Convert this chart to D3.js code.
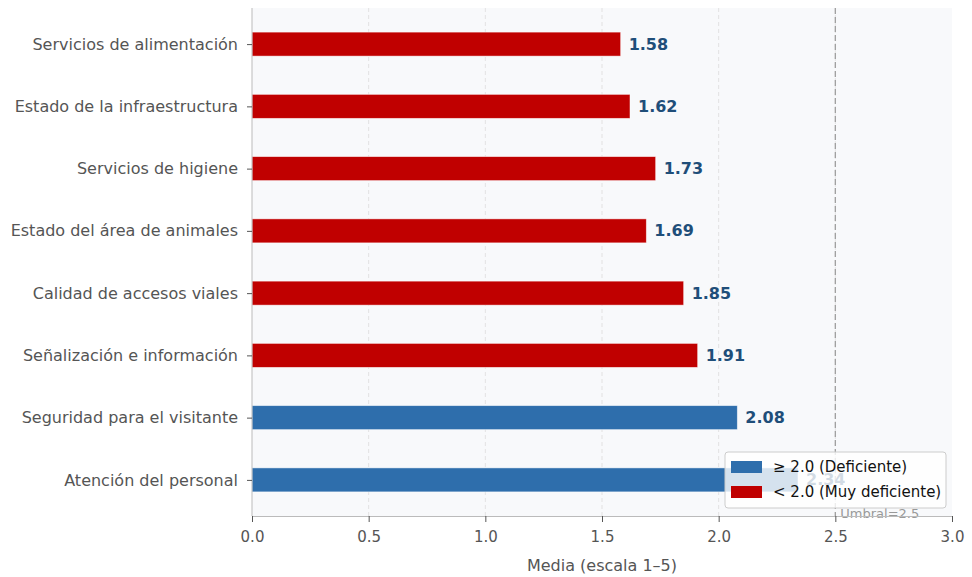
<!DOCTYPE html>
<html><head><meta charset="utf-8">
<script src="https://cdn.jsdelivr.net/npm/d3@7"></script>
<style>body{margin:0;background:#fff;} svg{display:block;font-family:"DejaVu Sans",sans-serif;}</style>
</head><body>
<svg id="c" width="972" height="577"></svg>
<script>
const categories = ["Servicios de alimentación","Estado de la infraestructura","Servicios de higiene","Estado del área de animales","Calidad de accesos viales","Señalización e información","Seguridad para el visitante","Atención del personal"];
const values = [1.58,1.62,1.73,1.69,1.85,1.91,2.08,2.34];
const xTicks = [0,0.5,1.0,1.5,2.0,2.5,3.0];
const threshold = 2.5;
const cutoff = 2.0;
const legendLabels = ["≥ 2.0 (Deficiente)","< 2.0 (Muy deficiente)"];
const colors = {hi:"#2E6EAC", lo:"#C00000"};

const svg = d3.select("#c");
const L=252, R=952, T=8, B=516;
const x = d3.scaleLinear().domain([0,3]).range([L,R]);
const y = d3.scalePoint().domain(categories).range([T,B]).padding(0.58);
const bh = 24;

svg.append("rect").attr("x",L).attr("y",T).attr("width",R-L).attr("height",B-T).attr("fill","#F8F9FB");

// grid
svg.append("g").selectAll("line").data(xTicks.filter(d=>d>0&&d<3)).join("line")
  .attr("x1",d=>x(d)).attr("x2",d=>x(d)).attr("y1",T).attr("y2",B)
  .attr("stroke","#dcdcdc").attr("stroke-width",0.8).attr("stroke-dasharray","4,3");

// threshold
svg.append("line").attr("x1",x(threshold)).attr("x2",x(threshold)).attr("y1",T).attr("y2",B)
  .attr("stroke","#a0a0a0").attr("stroke-width",1.3).attr("stroke-dasharray","6,3");

// bars
svg.append("g").selectAll("rect").data(values).join("rect")
  .attr("x",x(0)).attr("y",(d,i)=>y(categories[i])-bh/2)
  .attr("width",d=>x(d)-x(0)).attr("height",bh)
  .attr("fill",d=>d>=cutoff?colors.hi:colors.lo)
  .attr("stroke","#ffffff").attr("stroke-opacity",0.6).attr("stroke-width",0.8);

// value labels
svg.append("g").selectAll("text").data(values).join("text")
  .attr("x",d=>x(d)+8).attr("y",(d,i)=>y(categories[i]))
  .attr("dy","0.35em").attr("font-size",16).attr("font-weight","bold").attr("fill","#1F4E79")
  .text(d=>d.toFixed(2));

// threshold label
svg.append("text").attr("x",x(threshold)+5).attr("y",B+2).attr("font-size",13).attr("fill","#999")
  .text("Umbral="+threshold);

// axes
const xa = svg.append("g").attr("transform",`translate(0,${B})`)
  .call(d3.axisBottom(x).tickValues(xTicks).tickFormat(d3.format(".1f")).tickSize(6).tickSizeOuter(0).tickPadding(9));
xa.select(".domain").attr("stroke","#bbb");
xa.selectAll(".tick line").attr("stroke","#555");
xa.selectAll(".tick text").attr("font-size",15).attr("fill","#555").attr("font-family","DejaVu Sans");

const ya = svg.append("g").attr("transform",`translate(${L},0)`)
  .call(d3.axisLeft(y).tickSize(5).tickSizeOuter(0).tickPadding(9));
ya.select(".domain").attr("stroke","#bbb").attr("d",`M0,${T}V${B}`);
ya.selectAll(".tick line").attr("stroke","#555");
ya.selectAll(".tick text").attr("font-size",16).attr("fill","#555").attr("font-family","DejaVu Sans");

svg.append("text").attr("x",(L+R)/2).attr("y",571).attr("text-anchor","middle")
  .attr("font-size",16).attr("fill","#555").text("Media (escala 1–5)");

// legend
const lg = svg.append("g");
lg.append("rect").attr("x",725).attr("y",452).attr("width",221).attr("height",56).attr("rx",3)
  .attr("fill","#fff").attr("fill-opacity",0.8).attr("stroke","#ccc");
[colors.hi,colors.lo].forEach((c,i)=>{
  lg.append("rect").attr("x",731).attr("y",461+i*25).attr("width",31).attr("height",12).attr("fill",c);
  lg.append("text").attr("x",773).attr("y",467+i*25).attr("dy","0.35em").attr("font-size",15)
    .attr("fill","#111").text(legendLabels[i]);
});
</script>
</body></html>
